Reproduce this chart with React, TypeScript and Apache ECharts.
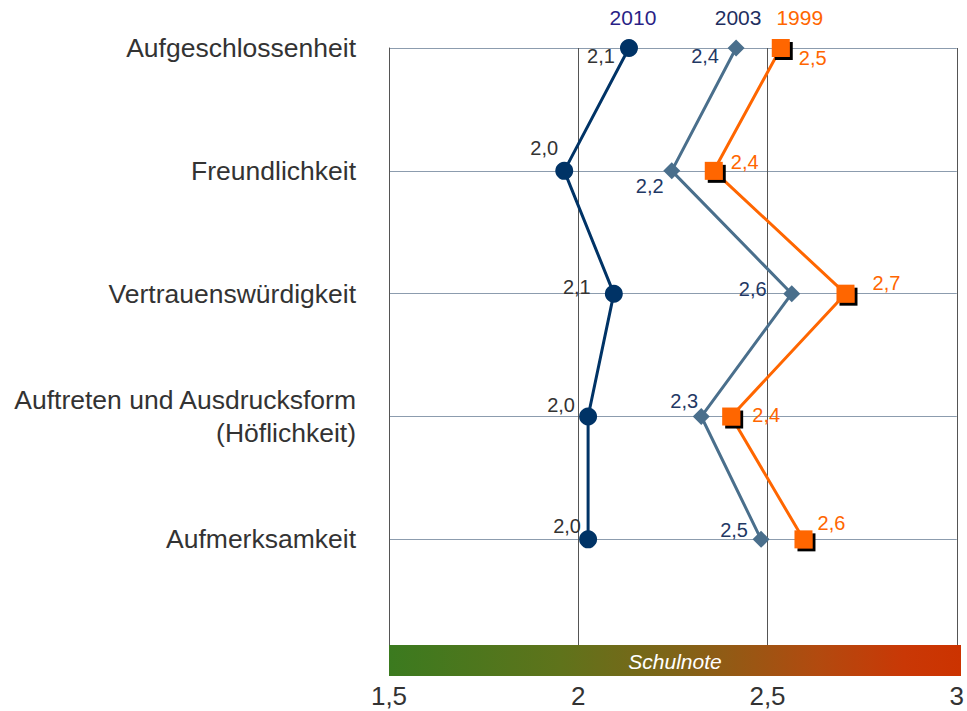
import React, { useEffect, useRef } from "react";
import * as echarts from "echarts";

const categories = [
  "Aufgeschlossenheit",
  "Freundlichkeit",
  "Vertrauenswürdigkeit",
  "Auftreten und Ausdrucksform\n(Höflichkeit)",
  "Aufmerksamkeit",
];
const values2010 = [2.134, 1.963, 2.094, 2.026, 2.026];
const values2003 = [2.417, 2.247, 2.564, 2.325, 2.483];
const values1999 = [2.535, 2.358, 2.706, 2.404, 2.595];
const xTicks = [1.5, 2, 2.5, 3];

const offsets2010 = [[-28, 8], [-20, -23], [-37, -7], [-27, -12], [-21, -13]];
const offsets2003 = [[-31, 8], [-22, 15], [-39, -5], [-17, -16], [-27, -9]];
const offsets1999 = [[32, 10], [31, -9], [41, -11], [35, -2], [28, -16]];

const FONT = "Liberation Sans, Arial, sans-serif";
const fmt = (v: number) => v.toFixed(1).replace(".", ",");

function buildSeries(
  name: string,
  values: number[],
  offsets: number[][],
  color: string,
  labelColor: string,
  headColor: string,
  headOffset: number[],
  symbol: string,
  symbolSize: number,
  extraItem: any
) {
  return {
    name,
    type: "line",
    symbol,
    symbolSize,
    lineStyle: { color, width: 3 },
    itemStyle: { color, ...extraItem },
    data: values.map((v, i) => ({
      value: [v, i],
      label: {
        show: true,
        position: "inside",
        offset: offsets[i],
        formatter: () => fmt(v),
        color: labelColor,
        fontSize: 20,
        fontFamily: FONT,
      },
    })),
    markPoint: {
      symbol: "circle",
      symbolSize: 0,
      silent: true,
      data: [
        {
          coord: [values[0], 0],
          label: {
            show: true,
            position: "inside",
            offset: headOffset,
            formatter: name,
            color: headColor,
            fontSize: 21,
            fontFamily: FONT,
          },
        },
      ],
    },
    z: 3,
  };
}

export default function App() {
  const ref = useRef<HTMLDivElement>(null);
  useEffect(() => {
    const chart = echarts.init(ref.current!, null, { renderer: "svg" });
    const option: any = {
      animation: false,
      backgroundColor: "#ffffff",
      grid: { left: 389, right: 6, top: 48, bottom: 66 },
      xAxis: {
        type: "value",
        min: xTicks[0],
        max: xTicks[xTicks.length - 1],
        interval: 0.5,
        axisLine: { show: false },
        axisTick: { show: false },
        splitLine: { show: true, lineStyle: { color: "#555555", width: 1 } },
        axisLabel: {
          margin: 38,
          fontSize: 26,
          color: "#333333",
          fontFamily: FONT,
          formatter: (v: number) => String(v).replace(".", ","),
          showMinLabel: true,
          showMaxLabel: true,
        },
      },
      yAxis: {
        type: "value",
        inverse: true,
        min: 0,
        max: 4.86,
        interval: 1,
        axisLine: { show: true, lineStyle: { color: "#555555", width: 1 } },
        axisTick: { show: false },
        splitLine: { show: true, lineStyle: { color: "#8c9cae", width: 1.2 } },
        axisLabel: {
          margin: 33,
          fontSize: 26.5,
          lineHeight: 33,
          align: "right",
          color: "#333333",
          fontFamily: FONT,
          formatter: (v: number) =>
            Number.isInteger(v) && categories[v] !== undefined ? categories[v] : "",
        },
      },
      graphic: [
        {
          type: "rect",
          shape: { x: 389, y: 645, width: 572, height: 31 },
          style: {
            fill: new echarts.graphic.LinearGradient(0, 0, 1, 0, [
              { offset: 0, color: "#3b7a1f" },
              { offset: 0.3, color: "#5f731b" },
              { offset: 0.5, color: "#7f6418" },
              { offset: 0.75, color: "#b24a0f" },
              { offset: 0.9, color: "#c93806" },
              { offset: 1, color: "#cc3300" },
            ]),
          },
          z: 10,
        },
        {
          type: "text",
          x: 675,
          y: 661,
          style: {
            text: "Schulnote",
            fill: "#ffffff",
            fontSize: 21,
            fontStyle: "italic",
            fontFamily: FONT,
            align: "center",
            verticalAlign: "middle",
          },
          z: 11,
        },
      ],
      series: [
        buildSeries("2003", values2003, offsets2003, "#4a6f8c", "#1f3864", "#1f2f5f", [2, -31], "diamond", 17, {}),
        buildSeries("1999", values1999, offsets1999, "#ff6600", "#ff6600", "#ff6600", [19, -31], "rect", 18, {
          shadowColor: "#000000",
          shadowOffsetX: 3,
          shadowOffsetY: 3,
          shadowBlur: 0,
        }),
        buildSeries("2010", values2010, offsets2010, "#003366", "#333333", "#2a1f86", [4, -31], "circle", 18, {}),
      ],
    };
    chart.setOption(option);
    return () => chart.dispose();
  }, []);
  return (
    <div
      ref={ref}
      style={{ position: "fixed", left: 0, top: 0, width: 967, height: 711 }}
    />
  );
}
